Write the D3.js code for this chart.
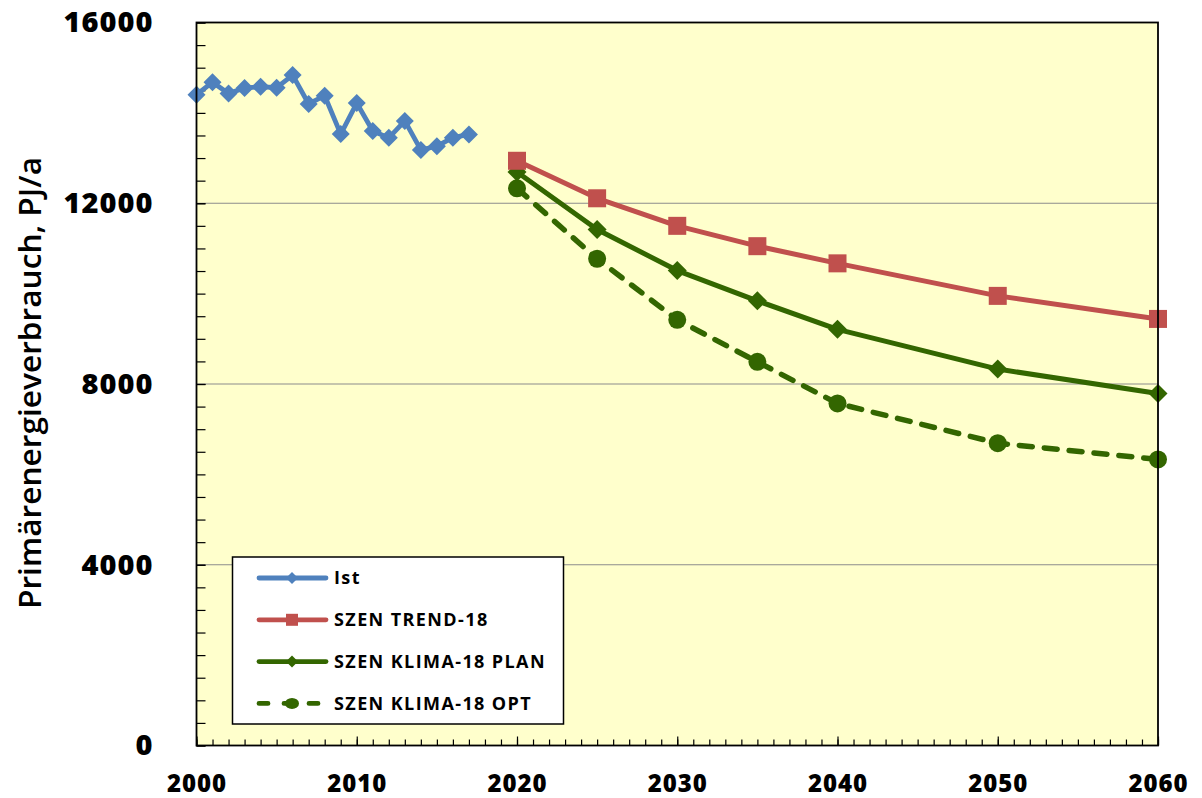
<!DOCTYPE html>
<html>
<head>
<meta charset="utf-8">
<script src="https://cdn.jsdelivr.net/npm/d3@7"></script>
<style>
  body { margin: 0; background: #fff; }
  svg { display: block; }
</style>
</head>
<body>
<svg width="1202" height="798"></svg>
<script>
// data
var istYears = [2000, 2001, 2002, 2003, 2004, 2005, 2006, 2007, 2008, 2009, 2010, 2011, 2012, 2013, 2014, 2015, 2016, 2017];
var istValues = [14401, 14679, 14427, 14553, 14578, 14558, 14837, 14197, 14380, 13531, 14217, 13599, 13447, 13822, 13180, 13262, 13451, 13523];
var szenYears = [2020, 2025, 2030, 2035, 2040, 2050, 2060];
var trendValues = [12940, 12110, 11500, 11050, 10670, 9950, 9440];
var planValues = [12690, 11420, 10510, 9840, 9210, 8330, 7790];
var optValues = [12330, 10770, 9420, 8490, 7570, 6690, 6330];
var yTicks = [0, 4000, 8000, 12000, 16000];
var xTicks = [2000, 2010, 2020, 2030, 2040, 2050, 2060];
var legendNames = ["Ist", "SZEN TREND-18", "SZEN KLIMA-18 PLAN", "SZEN KLIMA-18 OPT"];

var svg = d3.select("svg");
var plotLeft = 196.5, plotRight = 1158, plotTop = 22.5, plotBottom = 745.5;

var x = d3.scaleLinear().domain([2000, 2060]).range([plotLeft, plotRight]);
var y = d3.scaleLinear().domain([0, 16000]).range([plotBottom, plotTop]);

// plot area
svg.append("rect")
  .attr("x", plotLeft).attr("y", plotTop)
  .attr("width", plotRight - plotLeft).attr("height", plotBottom - plotTop)
  .attr("fill", "#ffffcc");

// grid lines
svg.append("g")
  .selectAll("line")
  .data([4000, 8000, 12000])
  .enter().append("line")
    .attr("x1", plotLeft).attr("x2", plotRight)
    .attr("y1", function (d) { return y(d); })
    .attr("y2", function (d) { return y(d); })
    .attr("stroke", "#8c8c8c")
    .attr("stroke-width", 1.2);

// minor ticks
svg.append("g")
  .attr("transform", "translate(0," + plotBottom + ")")
  .call(d3.axisBottom(x).tickValues(d3.range(2000, 2061, 1)).tickSize(-6).tickFormat(""))
  .call(function (g) { g.select(".domain").remove(); g.selectAll("line").attr("stroke-width", 1.2); });

svg.append("g")
  .attr("transform", "translate(" + plotLeft + ",0)")
  .call(d3.axisLeft(y).tickValues(d3.range(0, 16001, 500)).tickSize(-9).tickFormat(""))
  .call(function (g) { g.select(".domain").remove(); g.selectAll("line").attr("stroke-width", 1.2); });

// major axes with labels
var xAxis = svg.append("g")
  .attr("transform", "translate(0," + plotBottom + ")")
  .call(d3.axisBottom(x).tickValues(xTicks).tickSize(-9).tickPadding(29.5).tickFormat(d3.format("d")));
xAxis.select(".domain").remove();
xAxis.selectAll("line").attr("stroke-width", 1.2);
xAxis.selectAll("text")
  .attr("font-family", "'Open Sans', sans-serif")
  .attr("font-weight", 800)
  .attr("font-size", 24)
  .attr("letter-spacing", 1)
  .attr("fill", "#000");

var yAxis = svg.append("g")
  .attr("transform", "translate(" + plotLeft + ",0)")
  .call(d3.axisLeft(y).tickValues(yTicks).tickSize(-9).tickPadding(43).tickFormat(d3.format("d")));
yAxis.select(".domain").remove();
yAxis.selectAll("line").attr("stroke-width", 1.2);
yAxis.selectAll("text")
  .attr("font-family", "'Open Sans', sans-serif")
  .attr("font-weight", 800)
  .attr("font-size", 29)
  .attr("letter-spacing", 1)
  .attr("fill", "#000");

// y title
svg.append("text")
  .attr("transform", "translate(30,383) rotate(-90)")
  .attr("text-anchor", "middle")
  .attr("dy", "0.35em")
  .attr("font-family", "'Open Sans', sans-serif")
  .attr("font-weight", 600)
  .attr("font-size", 30)
  .attr("textLength", 452)
  .attr("lengthAdjust", "spacingAndGlyphs")
  .text("Primärenergieverbrauch, PJ/a");

// series
var line = d3.line()
  .x(function (d) { return x(d[0]); })
  .y(function (d) { return y(d[1]); });

var istData = d3.zip(istYears, istValues);
var trendData = d3.zip(szenYears, trendValues);
var planData = d3.zip(szenYears, planValues);
var optData = d3.zip(szenYears, optValues);

var blue = "#4f81bd", red = "#c0504d", green = "#336600";

function diamond(g, data, r, color) {
  g.selectAll(null)
    .data(data)
    .enter().append("path")
      .attr("d", function (d) {
        var cx = x(d[0]), cy = y(d[1]);
        return "M" + cx + "," + (cy - r) + "L" + (cx + r) + "," + cy + "L" + cx + "," + (cy + r) + "L" + (cx - r) + "," + cy + "Z";
      })
      .attr("fill", color);
}

var series = svg.append("g");

series.append("path").datum(optData)
  .attr("d", line).attr("fill", "none")
  .attr("stroke", green).attr("stroke-width", 5.5)
  .attr("stroke-dasharray", "13,12").attr("stroke-linecap", "round");
series.selectAll(null).data(optData).enter().append("circle")
  .attr("cx", function (d) { return x(d[0]); })
  .attr("cy", function (d) { return y(d[1]); })
  .attr("r", 9).attr("fill", green);

series.append("path").datum(planData)
  .attr("d", line).attr("fill", "none")
  .attr("stroke", green).attr("stroke-width", 5).attr("stroke-linejoin", "round");
diamond(series, planData, 9.5, green);

series.append("path").datum(trendData)
  .attr("d", line).attr("fill", "none")
  .attr("stroke", red).attr("stroke-width", 5).attr("stroke-linejoin", "round");
series.selectAll(null).data(trendData).enter().append("rect")
  .attr("x", function (d) { return x(d[0]) - 9; })
  .attr("y", function (d) { return y(d[1]) - 9; })
  .attr("width", 18).attr("height", 18).attr("fill", red);

series.append("path").datum(istData)
  .attr("d", line).attr("fill", "none")
  .attr("stroke", blue).attr("stroke-width", 4.8).attr("stroke-linejoin", "round");
diamond(series, istData, 9, blue);

// frame
svg.append("rect")
  .attr("x", plotLeft).attr("y", plotTop)
  .attr("width", plotRight - plotLeft).attr("height", plotBottom - plotTop)
  .attr("fill", "none").attr("stroke", "#000").attr("stroke-width", 1.8);

// legend
var legend = svg.append("g");
legend.append("rect")
  .attr("x", 232.5).attr("y", 557)
  .attr("width", 331).attr("height", 167)
  .attr("fill", "#fff").attr("stroke", "#000").attr("stroke-width", 1.5);

var legendColors = [blue, red, green, green];
var items = legend.selectAll("g.item")
  .data(legendNames)
  .enter().append("g")
    .attr("class", "item")
    .attr("transform", function (d, i) { return "translate(0," + (578 + i * 41.8) + ")"; });

items.append("line")
  .attr("x1", 259).attr("x2", 326)
  .attr("stroke", function (d, i) { return legendColors[i]; })
  .attr("stroke-width", 4.8)
  .attr("stroke-linecap", "round")
  .attr("stroke-dasharray", function (d, i) { return i === 3 ? "9,16" : null; });

items.each(function (d, i) {
  var g = d3.select(this);
  if (i === 1) {
    g.append("rect").attr("x", 286).attr("y", -6).attr("width", 12).attr("height", 12).attr("fill", red);
  } else if (i === 3) {
    g.append("ellipse").attr("cx", 292).attr("cy", 0).attr("rx", 7).attr("ry", 5.5).attr("fill", green);
  } else {
    g.append("path").attr("d", "M292,-6L298,0L292,6L286,0Z").attr("fill", legendColors[i]);
  }
});

items.append("text")
  .attr("x", 334)
  .attr("dy", "0.36em")
  .attr("font-family", "'Open Sans', sans-serif")
  .attr("font-weight", 700)
  .attr("font-size", 18)
  .attr("letter-spacing", 1.4)
  .attr("fill", "#000")
  .text(function (d) { return d; });
</script>
</body>
</html>
